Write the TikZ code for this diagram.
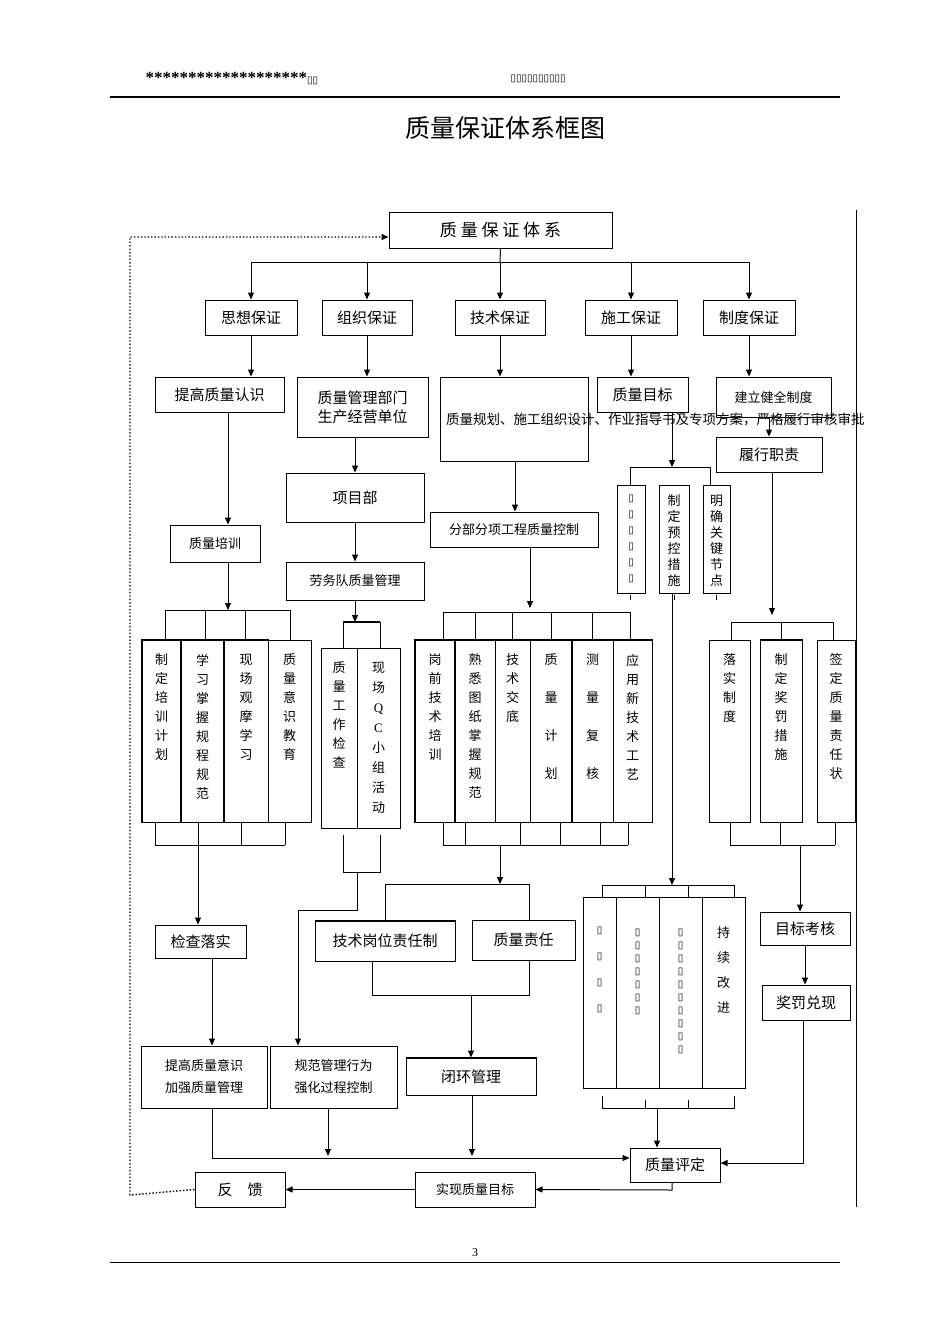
\documentclass[tikz,border=0pt]{standalone}
\usepackage{fontspec}
\setmainfont{Liberation Serif}
\newfontfamily\cjk{Noto Sans CJK SC}
\newfontfamily\djvfont{DejaVu Sans}
\usetikzlibrary{arrows.meta}
\newcommand\sq{{\djvfont\fontsize{10}{12}\selectfont ▯}}
\begin{document}
\begin{tikzpicture}[x=1pt,y=-1pt,line width=1pt,
 box/.style={draw,inner sep=0pt,font=\cjk\fontsize{15}{19}\selectfont,align=center},
 sbox/.style={box,font=\cjk\fontsize{13}{17}\selectfont},
 col/.style={draw,inner sep=0pt},
 vt/.style={inner sep=0pt,anchor=north,align=center,font=\cjk\fontsize{13}{19}\selectfont},
 arr/.style={-{Triangle[length=7pt,width=6pt]}},
 ln/.style={line width=1pt}]
\useasboundingbox (0,0) rectangle (950,1344);
% header
\node[inner sep=0,anchor=west,font=\bfseries\fontsize{17}{20}\selectfont] (h1) at (145,79) {*******************\sq\sq};
\node[inner sep=0,anchor=west] (h2) at (510,79) {\sq\sq\sq\sq\sq\sq\sq\sq\sq\sq};
\draw[line width=1.6pt] (110,97) -- (840,97);
\node[inner sep=0,font=\cjk\fontsize{25}{30}\selectfont] (title) at (505,128) {质量保证体系框图};
\draw[line width=0.8pt] (856,210) -- (856,1207);
% top
\node[box,minimum width=223,minimum height=36,font=\cjk\fontsize{17}{20}\selectfont] (top) at (500.5,230) {质\ 量\ 保\ 证\ 体\ 系};
\foreach \n/\x/\w/\t in {sx/251/92/思想保证,zz/367/90/组织保证,js/500/90/技术保证,sg/631/92/施工保证,zd/749/92/制度保证}
  \node[box,minimum width=\w,minimum height=35] (\n) at (\x,317.5) {\t};
\coordinate (bt) at (500,262);
\draw (top.south) -- (bt);
\draw (sx.north|-bt) -- (zd.north|-bt);
\foreach \n in {sx,zz,js,sg,zd} \draw[arr] (\n.north|-bt) -- (\n.north);
% row 3
\node[box,minimum width=129,minimum height=35] (tg) at (219.5,394.5) {提高质量认识};
\node[box,minimum width=131,minimum height=60] (zl) at (362.5,407) {质量管理部门\\生产经营单位};
\node[box,minimum width=148,minimum height=84,font=\cjk\fontsize{13.5}{15}\selectfont,align=left,text width=136] (jh) at (514,419) {质量规划、施工组织设计、作业指导书及专项方案，严格履行审核审批};
\node[box,minimum width=91,minimum height=35] (mb) at (642.5,394.5) {质量目标};
\node[sbox,minimum width=115,minimum height=40] (jl) at (773.5,397) {建立健全制度};
\draw[arr] (sx.south) -- (sx.south|-tg.north);
\draw[arr] (zz.south) -- (zz.south|-zl.north);
\draw[arr] (js.south) -- (js.south|-jh.north);
\draw[arr] (sg.south) -- (sg.south|-mb.north);
\draw[arr] (zd.south) -- (zd.south|-jl.north);
\node[box,minimum width=106,minimum height=35] (lz) at (769,454.5) {履行职责};
\draw[arr] (jl.south-|lz) -- (lz.north);
\node[box,minimum width=138,minimum height=49] (xmb) at (355,497.5) {项目部};
\node[sbox,minimum width=138,minimum height=38] (lw) at (355,581) {劳务队质量管理};
\node[sbox,minimum width=90,minimum height=37] (px) at (215,543.5) {质量培训};
\node[sbox,minimum width=168,minimum height=35] (fb) at (514,529.5) {分部分项工程质量控制};
\draw[arr] (zl.south-|xmb) -- (xmb.north);
\draw[arr] (xmb.south) -- (lw.north);
\draw[arr] (tg.south-|228,0) -- (px.north-|228,0);
\draw[arr] (jh.south-|515,0) -- (fb.north-|515,0);
% three boxes under 质量目标
\node[col,minimum width=28,minimum height=108] (a1) at (631,539) {};
\node[col,minimum width=30,minimum height=108] (a2) at (674,539) {};
\node[col,minimum width=27,minimum height=108] (a3) at (716.5,539) {};
\node[vt,font=\cjk\fontsize{13}{16}\selectfont] at (a1.north) [yshift=-10] {\sq\\\sq\\\sq\\\sq\\\sq\\\sq};
\node[vt,font=\cjk\fontsize{13}{16}\selectfont] at (a2.north) [yshift=-10] {制\\定\\预\\控\\措\\施};
\node[vt,font=\cjk\fontsize{13}{16}\selectfont] at (a3.north) [yshift=-10] {明\\确\\关\\键\\节\\点};
\draw[arr] (mb.south-|672,0) -- (672,467);
\draw (630,467) -- (710,467); \draw (630,467) -- (a1.north-|630,0); \draw (710,467) -- (a3.north-|710,0);
\foreach \x in {630,674,716} \draw[line width=0.6pt] (\x,595) -- (\x,600);
\draw[arr] (672,593) -- (672,885);
% training columns
\foreach \n/\x/\w in {t1/161.5/39,t2/202.5/43,t3/246/44,t4/289.5/43}
  \node[col,minimum width=\w,minimum height=182] (\n) at (\x,731) {};
\draw[line width=1.8pt] (t1.north west) rectangle (t3.south east);
\draw[line width=1.8pt] (t2.north west) -- (t2.south west) (t3.north west)--(t3.south west);
\node[vt] at (t1.north) [yshift=-14] {制\\定\\培\\训\\计\\划};
\node[vt] at (t2.north) [yshift=-14] {学\\习\\掌\\握\\规\\程\\规\\范};
\node[vt] at (t3.north) [yshift=-14] {现\\场\\观\\摩\\学\\习};
\node[vt] at (t4.north) [yshift=-14] {质\\量\\意\\识\\教\\育};
\draw[arr] (px.south-|228,0) -- (228,610);
\draw (165,610) -- (290,610);
\foreach \x in {165,205,245,290} \draw (\x,610) -- (\x,640);
\draw (155,845) -- (285,845);
\foreach \x in {155,198,241,285} \draw (\x,822) -- (\x,845);
% QC columns
\node[col,minimum width=36,minimum height=180] (q1) at (339,738) {};
\node[col,minimum width=43,minimum height=180] (q2) at (378.5,738) {};
\node[vt] at (q1.north) [yshift=-14] {质\\量\\工\\作\\检\\查};
\node[vt,font=\cjk\fontsize{13}{20}\selectfont] at (q2.north) [yshift=-14] {现\\场\\{\rmfamily Q}\\{\rmfamily C}\\小\\组\\活\\动};
\draw[arr] (lw.south) -- (355,622);
\draw[line width=1.8pt] (343,622) -- (380,622);
\draw (343,622) -- (343,648) (380,622) -- (380,648);
\draw (343,835) -- (343,872) -- (380,872) -- (380,835);
% tech columns
\foreach \n/\x/\w in {k1/435/40,k2/475/40,k3/512.5/35,k4/551/42,k5/592.5/41,k6/632.5/39}
  \node[col,minimum width=\w,minimum height=182] (\n) at (\x,731) {};
\draw[line width=1.8pt] (k1.south west) -- (k1.north west) -- (k6.north east) -- (k6.south east) (k2.north west)--(k2.south west) (k5.north west)--(k5.south west);
\node[vt] at (k1.north) [yshift=-14] {岗\\前\\技\\术\\培\\训};
\node[vt] at (k2.north) [yshift=-14] {熟\\悉\\图\\纸\\掌\\握\\规\\范};
\node[vt] at (k3.north) [yshift=-14] {技\\术\\交\\底};
\node[vt,font=\cjk\fontsize{13}{38}\selectfont] at (k4.north) [yshift=-14] {质\\量\\计\\划};
\node[vt,font=\cjk\fontsize{13}{38}\selectfont] at (k5.north) [yshift=-14] {测\\量\\复\\核};
\node[vt] at (k6.north) [yshift=-14] {应\\用\\新\\技\\术\\工\\艺};
\draw[arr] (fb.south-|530,0) -- (530,608);
\draw (443,612) -- (630,612);
\foreach \x in {443,475,512,551,592,630} \draw (\x,612) -- (\x,640);
\draw (443,845) -- (628,845);
\foreach \x in {443,465,520,560,600,628} \draw (\x,822) -- (\x,845);
% zhidu columns
\foreach \n/\x/\w in {z1/729.5/41,z2/781/42,z3/836/38}
  \node[col,minimum width=\w,minimum height=182] (\n) at (\x,731) {};
\draw[line width=1.8pt] (z2.north west) -- (z2.north east);
\node[vt] at (z1.north) [yshift=-14] {落\\实\\制\\度};
\node[vt] at (z2.north) [yshift=-14] {制\\定\\奖\\罚\\措\\施};
\node[vt] at (z3.north) [yshift=-14] {签\\定\\质\\量\\责\\任\\状};
\draw[arr] (lz.south-|772,0) -- (772,615);
\draw (731,622) -- (833,622);
\foreach \x in {731,781,833} \draw (\x,622) -- (\x,640);
\draw (730,845) -- (835,845);
\foreach \x in {730,780,835} \draw (\x,822) -- (\x,845);
% middle
\node[box,minimum width=140,minimum height=40] (gw) at (385,941) {技术岗位责任制};
\draw[line width=1.8pt] (gw.south west) -- (gw.south east) (gw.north west) -- (gw.north east);
\node[box,minimum width=103,minimum height=40] (zr) at (523.5,940) {质量责任};
\draw[arr] (500,845) -- (500,884);
\draw (385,884) -- (529,884); \draw (385,884) -- (gw.north-|385,0); \draw (529,884) -- (zr.north-|529,0);
\node[box,minimum width=130,minimum height=37] (hb) at (471,1076.5) {闭环管理};
\draw[line width=1.8pt] (hb.north west) -- (hb.north east);
\draw (gw.south-|372,0) -- (372,995) -- (529,995) -- (zr.south-|529,0);
\draw[arr] (471,995) -- (hb.north);
\node[box,minimum width=91,minimum height=33] (jc) at (200.5,941.5) {检查落实};
\draw[arr] (198,845) -- (jc.north-|198,0);
\node[sbox,minimum width=126,minimum height=62,font=\cjk\fontsize{13}{22}\selectfont] (tq) at (204,1077) {提高质量意识\\加强质量管理};
\node[sbox,minimum width=127,minimum height=62,font=\cjk\fontsize{13}{22}\selectfont] (gf) at (333.5,1077) {规范管理行为\\强化过程控制};
\draw[arr] (jc.south-|212,0) -- (tq.north-|212,0);
\draw[arr] (357,872) -- (357,910) -- (298,910) -- (gf.north-|298,0);
% lower right cols
\foreach \n/\x/\w in {l1/599.5/33,l2/637.5/43,l3/680.5/43,l4/723.5/43}
  \node[col,minimum width=\w,minimum height=191] (\n) at (\x,992.5) {};
\node[vt,font=\cjk\fontsize{13}{26}\selectfont] at (l1.north) [yshift=-30] {\sq\\\sq\\\sq\\\sq};
\node[vt,font=\cjk\fontsize{13}{13}\selectfont] at (l2.north) [yshift=-32] {\sq\\\sq\\\sq\\\sq\\\sq\\\sq\\\sq};
\node[vt,font=\cjk\fontsize{13}{13}\selectfont] at (l3.north) [yshift=-32] {\sq\\\sq\\\sq\\\sq\\\sq\\\sq\\\sq\\\sq\\\sq\\\sq};
\node[vt,font=\cjk\fontsize{13}{25}\selectfont] at (l4.north) [yshift=-30] {持\\续\\改\\进};
\draw (602,897) -- (602,885) -- (734,885) -- (734,897); \draw (645,885) -- (645,897); \draw (688,885) -- (688,897);
\draw (602,1096) -- (602,1108) -- (734,1108) -- (734,1096); \draw (645,1100) -- (645,1108); \draw (688,1100) -- (688,1108);
\node[box,minimum width=90,minimum height=34] (pd) at (675,1165) {质量评定};
\draw[arr] (657,1108) -- (pd.north-|657,0);
\node[box,minimum width=90,minimum height=33] (mk) at (805,928.5) {目标考核};
\node[box,minimum width=88,minimum height=35] (jf) at (806,1002.5) {奖罚兑现};
\draw[arr] (800,845) -- (mk.north-|800,0);
\draw[arr] (mk.south) -- (jf.north-|mk.south);
\draw[arr] (jf.south-|803,0) -- (803,1163) -- (pd.east|-803,1163);
% bottom line
\draw[arr] (tq.south-|212,0) -- (212,1158) -- (pd.west|-0,1158);
\draw[arr] (gf.south-|328,0) -- (328,1156);
\draw[arr] (hb.south-|472,0) -- (472,1156);
\node[sbox,minimum width=120,minimum height=35] (sx2) at (475,1189.5) {实现质量目标};
\node[box,minimum width=90,minimum height=35] (fk) at (240,1189.5) {反\quad 馈};
\draw[arr] (pd.south-|672,0) -- (672,1190) -- (sx2.east);
\draw[arr] (sx2.west) -- (fk.east);
\draw[dotted,line width=1.4pt,arr] (fk.west) -- (130,1195) -- (130,237) -- (top.west|-0,237);
% footer
\node[inner sep=0,font=\fontsize{12}{14}\selectfont] (pg) at (475,1253) {3};
\draw[line width=0.8pt] (110,1262) -- (840,1262);
\end{tikzpicture}
\end{document}
